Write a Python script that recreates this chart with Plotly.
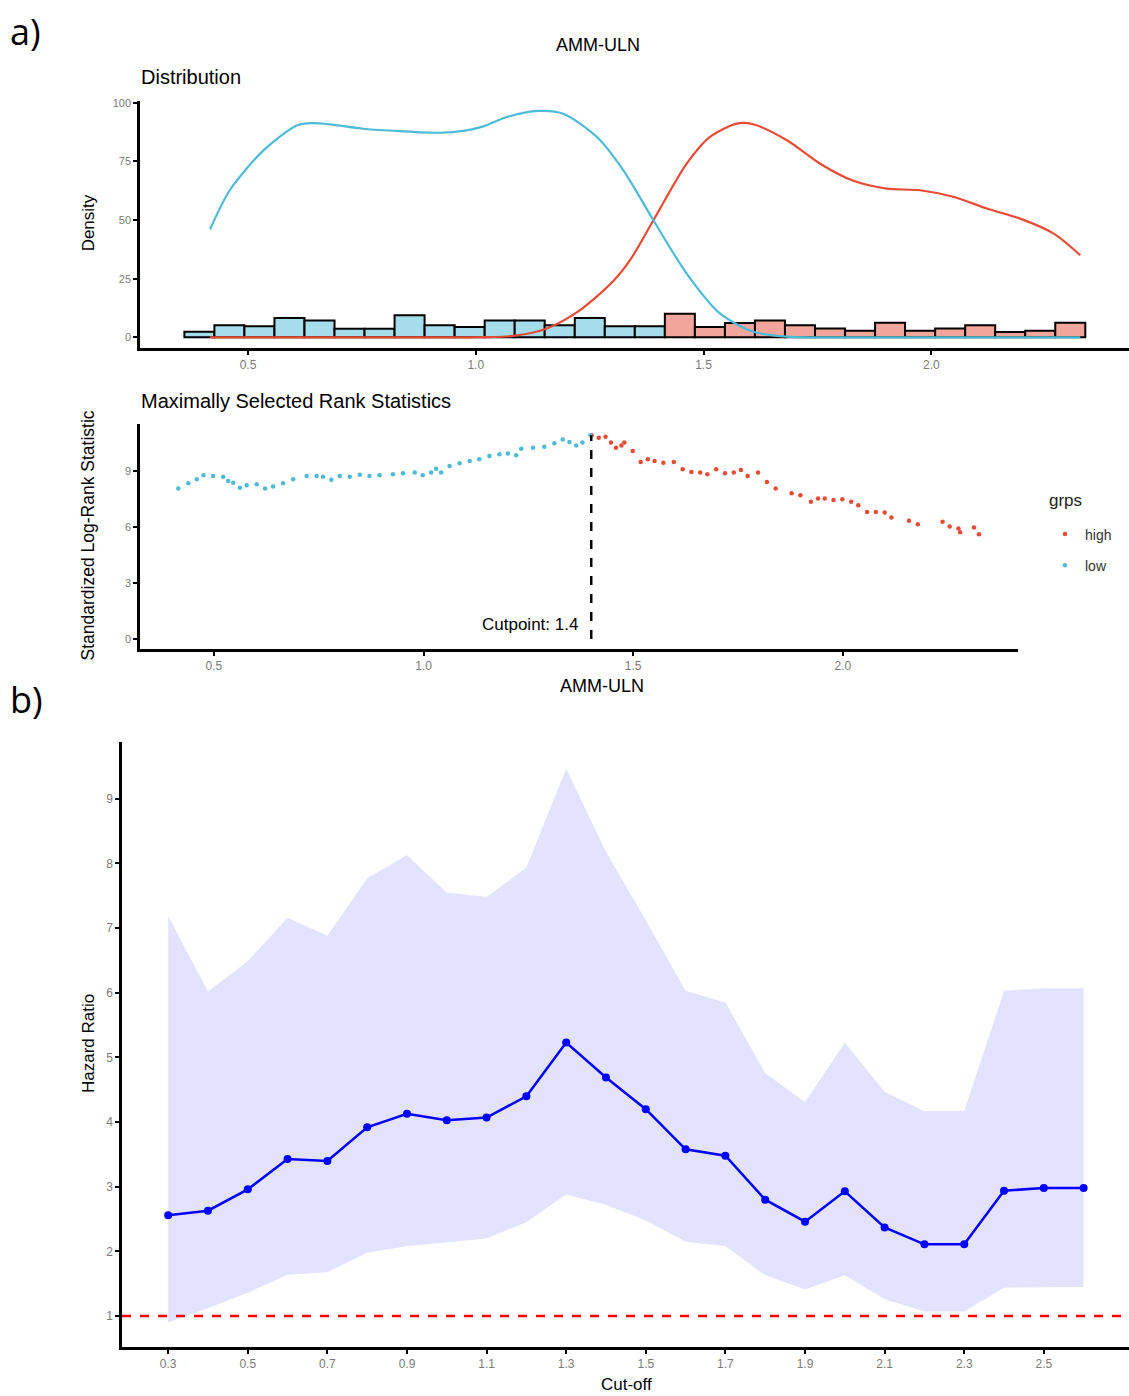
import plotly.graph_objects as go

# ---------------- data ----------------
# Panel a) Distribution: histogram (30 bins) + density curves
hist_centers = [0.3933, 0.4592, 0.5251, 0.5910, 0.6570, 0.7229, 0.7888, 0.8547, 0.9207, 0.9866,
                1.0525, 1.1184, 1.1843, 1.2503, 1.3162, 1.3821, 1.4480, 1.5140, 1.5799, 1.6458,
                1.7117, 1.7777, 1.8436, 1.9095, 1.9754, 2.0414, 2.1073, 2.1732, 2.2391, 2.3051]
hist_heights = [2.4, 5.1, 4.7, 8.2, 7.2, 3.7, 3.7, 9.4, 5.1, 4.4,
                7.2, 7.2, 5.1, 8.2, 4.7, 4.7, 10.0, 4.4, 6.1, 7.2,
                5.1, 3.8, 2.8, 6.2, 2.8, 3.8, 5.1, 2.3, 2.8, 6.2]
hist_groups = ["low"] * 16 + ["high"] * 14
hist_bin_width = 0.0659

dens_low_x = [0.4166, 0.460, 0.534, 0.607, 0.640, 0.680, 0.753, 0.826, 0.922, 0.973, 1.017, 1.068,
              1.137, 1.192, 1.266, 1.324, 1.390, 1.463, 1.536, 1.609, 1.683, 1.80, 2.0, 2.327]
dens_low_y = [46.0, 62.7, 79.7, 90.3, 91.3, 90.8, 88.9, 88.0, 87.2, 88.0, 89.9, 93.9,
              96.5, 95.3, 85.4, 71.2, 49.9, 27.2, 10.2, 2.4, 0.3, 0.0, 0.0, 0.0]
dens_high_x = [0.4166, 0.8, 1.016, 1.082, 1.156, 1.229, 1.302, 1.339, 1.390, 1.463, 1.514, 1.573,
               1.609, 1.683, 1.756, 1.829, 1.902, 1.975, 2.048, 2.122, 2.195, 2.268, 2.327]
dens_high_y = [0.0, 0.0, 0.05, 0.6, 3.8, 11.6, 24.0, 33.0, 49.9, 74.0, 85.4, 91.1,
               90.8, 84.0, 74.0, 66.7, 63.4, 62.7, 59.9, 54.9, 50.6, 44.3, 35.0]

# Panel a) Maximally selected rank statistics
stat_low_x = [0.415, 0.439, 0.459, 0.475, 0.498, 0.522, 0.534, 0.546, 0.562, 0.578, 0.602, 0.622,
              0.641, 0.665, 0.689, 0.721, 0.745, 0.760, 0.780, 0.800, 0.824, 0.848, 0.871, 0.895,
              0.927, 0.951, 0.979, 0.998, 1.018, 1.030, 1.042, 1.062, 1.086, 1.110, 1.133, 1.157,
              1.181, 1.201, 1.221, 1.233, 1.261, 1.288, 1.312, 1.332, 1.348, 1.364, 1.379, 1.398]
stat_low_y = [8.07, 8.36, 8.57, 8.79, 8.75, 8.71, 8.48, 8.39, 8.12, 8.25, 8.30, 8.07,
              8.18, 8.36, 8.57, 8.75, 8.75, 8.71, 8.54, 8.75, 8.71, 8.82, 8.75, 8.79,
              8.84, 8.89, 8.93, 8.79, 8.93, 9.14, 8.93, 9.29, 9.43, 9.55, 9.64, 9.82,
              9.91, 9.96, 9.86, 10.21, 10.27, 10.32, 10.50, 10.71, 10.57, 10.39, 10.54, 10.93]
stat_high_x = [1.401, 1.418, 1.434, 1.447, 1.459, 1.472, 1.479, 1.499, 1.518, 1.535, 1.551, 1.572,
               1.597, 1.618, 1.639, 1.660, 1.677, 1.698, 1.719, 1.740, 1.757, 1.773, 1.798, 1.819,
               1.840, 1.878, 1.899, 1.924, 1.941, 1.957, 1.978, 1.999, 2.020, 2.037, 2.058, 2.079,
               2.100, 2.116, 2.158, 2.179, 2.238, 2.255, 2.276, 2.280, 2.313, 2.325]
stat_high_y = [10.93, 10.80, 10.86, 10.54, 10.27, 10.39, 10.54, 10.09, 9.50, 9.64, 9.55, 9.46,
               9.50, 9.11, 8.96, 8.93, 8.84, 9.11, 8.89, 8.93, 9.07, 8.75, 8.93, 8.43,
               8.07, 7.82, 7.71, 7.36, 7.54, 7.54, 7.46, 7.50, 7.36, 7.18, 6.82, 6.82,
               6.79, 6.52, 6.34, 6.16, 6.29, 6.04, 5.93, 5.72, 5.98, 5.62]
cutpoint = 1.4
cutpoint_stat = 10.93

# Panel b) Hazard ratio by cut-off
cutoffs = [0.3, 0.4, 0.5, 0.6, 0.7, 0.8, 0.9, 1.0, 1.1, 1.2, 1.3, 1.4,
           1.5, 1.6, 1.7, 1.8, 1.9, 2.0, 2.1, 2.2, 2.3, 2.4, 2.5, 2.6]
hr = [2.56, 2.63, 2.96, 3.43, 3.40, 3.92, 4.13, 4.03, 4.07, 4.40, 5.23, 4.69,
      4.20, 3.58, 3.48, 2.80, 2.46, 2.93, 2.37, 2.11, 2.11, 2.94, 2.98, 2.98]
hr_upper = [7.19, 6.02, 6.49, 7.16, 6.88, 7.77, 8.13, 7.55, 7.48, 7.94, 9.47, 8.18,
            7.12, 6.03, 5.85, 4.76, 4.31, 5.23, 4.47, 4.17, 4.17, 6.03, 6.07, 6.07]
hr_lower = [0.90, 1.12, 1.36, 1.64, 1.68, 1.98, 2.08, 2.14, 2.20, 2.45, 2.88, 2.72,
            2.48, 2.15, 2.08, 1.63, 1.41, 1.63, 1.26, 1.07, 1.07, 1.44, 1.45, 1.45]
hr_reference = 1

# tick labels
a_xticks = [0.5, 1.0, 1.5, 2.0]
a_xticktext = ["0.5", "1.0", "1.5", "2.0"]
dens_yticks = [0, 25, 50, 75, 100]
stat_yticks = [0, 3, 6, 9]
b_xticks = [0.3, 0.5, 0.7, 0.9, 1.1, 1.3, 1.5, 1.7, 1.9, 2.1, 2.3, 2.5]
b_xticktext = ["0.3", "0.5", "0.7", "0.9", "1.1", "1.3", "1.5", "1.7", "1.9", "2.1", "2.3", "2.5"]
b_yticks = [1, 2, 3, 4, 5, 6, 7, 8, 9]

# ---------------- styling ----------------
W, H = 1129, 1396
RED = "#E64B35"
BLUE = "#4DBBD5"
RED_FILL = "#F2A59A"
BLUE_FILL = "#A6DDEA"
FONT = "Liberation Sans, Arial, sans-serif"
TICKCOL = "#7a7a7a"


def px_x(p):
    return p / W


def px_y(p):
    return 1 - p / H


fig = go.Figure()

# histogram bars
fig.add_trace(go.Bar(
    x=hist_centers, y=hist_heights, width=hist_bin_width,
    marker=dict(color=[BLUE_FILL if g == "low" else RED_FILL for g in hist_groups],
                line=dict(color="black", width=2)),
    xaxis="x", yaxis="y", showlegend=False, hoverinfo="skip"))

# density curves
fig.add_trace(go.Scatter(x=dens_high_x, y=dens_high_y, mode="lines",
                         line=dict(color=RED, width=2.2, shape="spline", smoothing=0.8),
                         xaxis="x", yaxis="y", showlegend=False))
fig.add_trace(go.Scatter(x=dens_low_x, y=dens_low_y, mode="lines",
                         line=dict(color=BLUE, width=2.2, shape="spline", smoothing=0.8),
                         xaxis="x", yaxis="y", showlegend=False))

# rank statistics points
fig.add_trace(go.Scatter(x=stat_high_x, y=stat_high_y, mode="markers", name="high",
                         legendgroup="high",
                         marker=dict(color=RED, size=4.5), xaxis="x2", yaxis="y2"))
fig.add_trace(go.Scatter(x=stat_low_x, y=stat_low_y, mode="markers", name="low",
                         legendgroup="low",
                         marker=dict(color=BLUE, size=4.5), xaxis="x2", yaxis="y2"))

# panel b ribbon
fig.add_trace(go.Scatter(x=cutoffs, y=hr_lower, mode="lines", line=dict(width=0),
                         xaxis="x3", yaxis="y3", showlegend=False, hoverinfo="skip"))
fig.add_trace(go.Scatter(x=cutoffs, y=hr_upper, mode="lines", line=dict(width=0),
                         fill="tonexty", fillcolor="rgba(0,0,255,0.11)",
                         xaxis="x3", yaxis="y3", showlegend=False, hoverinfo="skip"))
fig.add_trace(go.Scatter(x=cutoffs, y=hr, mode="lines+markers",
                         line=dict(color="#0000FF", width=2.5),
                         marker=dict(color="#0000FF", size=8),
                         xaxis="x3", yaxis="y3", showlegend=False))

axis_common = dict(showline=True, linecolor="black", linewidth=2.5, ticks="outside",
                   ticklen=4, tickwidth=1.5, tickcolor="black", showgrid=False,
                   zeroline=False, tickfont=dict(family=FONT, size=12, color=TICKCOL))
small_ticks = {**axis_common, "tickfont": dict(family=FONT, size=11, color=TICKCOL)}

fig.update_layout(
    width=W, height=H,
    margin=dict(l=0, r=0, t=0, b=0),
    paper_bgcolor="white", plot_bgcolor="white",
    barmode="overlay",
    font=dict(family=FONT, color="black"),
    xaxis=dict(domain=[px_x(140), 1.0], range=[0.2629, 2.434], anchor="y",
               tickvals=a_xticks, ticktext=a_xticktext, **axis_common),
    yaxis=dict(domain=[px_y(345), px_y(97)], range=[-4.55, 100.85], anchor="x",
               tickvals=dens_yticks, **small_ticks),
    xaxis2=dict(domain=[px_x(140), px_x(1018)], range=[0.3236, 2.418], anchor="y2",
                tickvals=a_xticks, ticktext=a_xticktext, **axis_common),
    yaxis2=dict(domain=[px_y(647), px_y(421)], range=[-0.55, 11.55], anchor="x2",
                tickvals=stat_yticks, **small_ticks),
    xaxis3=dict(domain=[px_x(122), 1.0], range=[0.184, 2.714], anchor="y3",
                tickvals=b_xticks, ticktext=b_xticktext, **axis_common),
    yaxis3=dict(domain=[px_y(1347), px_y(740)], range=[0.52, 9.88], anchor="x3",
                tickvals=b_yticks, **axis_common),
    legend=dict(x=px_x(1045), y=px_y(516), xanchor="left", yanchor="top",
                font=dict(family=FONT, size=14, color="#333"),
                traceorder="grouped", tracegroupgap=10,
                bgcolor="rgba(0,0,0,0)"),
    showlegend=True,
)

# dashed cutpoint line and reference line
fig.add_shape(type="line", xref="x2", yref="y2", x0=cutpoint, x1=cutpoint, y0=0, y1=cutpoint_stat,
              line=dict(color="black", width=2.5, dash="dash"))
fig.add_shape(type="line", xref="x3 domain", yref="y3", x0=0, x1=1, y0=hr_reference, y1=hr_reference,
              line=dict(color="#FF0000", width=2.5, dash="dash"))

ann = []


def paper_text(text, x, y, size, xanchor="center", angle=0, family=FONT, color="black"):
    ann.append(dict(text=text, x=px_x(x), y=px_y(y), xref="paper", yref="paper",
                    xanchor=xanchor, yanchor="middle", showarrow=False, textangle=angle,
                    font=dict(family=family, size=size, color=color)))


paper_text("a)", 8, 28, 36, xanchor="left", family="Open Sans, sans-serif")
paper_text("b)", 8, 697, 36, xanchor="left", family="Open Sans, sans-serif")
paper_text("AMM-ULN", 598, 41, 18)
paper_text("Distribution", 139, 73, 20, xanchor="left")
paper_text("Density", 88, 220, 17, angle=-90)
paper_text("Maximally Selected Rank Statistics", 139, 398, 20, xanchor="left")
paper_text("Standardized Log-Rank Statistic", 88, 533, 17.5, angle=-90)
paper_text("AMM-ULN", 602, 684, 18)
paper_text("Hazard Ratio", 88, 1043, 17, angle=-90)
paper_text("Cut-off", 626, 1384, 17)
paper_text("grps", 1047, 498, 17, xanchor="left", color="#222")

ann.append(dict(text="Cutpoint: 1.4", x=cutpoint, y=0.8, xref="x2", yref="y2",
                xanchor="right", yanchor="middle", xshift=-11, showarrow=False,
                font=dict(family=FONT, size=17, color="black")))

fig.update_layout(annotations=ann)

fig.write_html("out.html",
               config={"displayModeBar": False},
               post_script="document.body.style.margin='0';document.body.style.padding='0';"
                           "document.documentElement.style.overflow='hidden';")
